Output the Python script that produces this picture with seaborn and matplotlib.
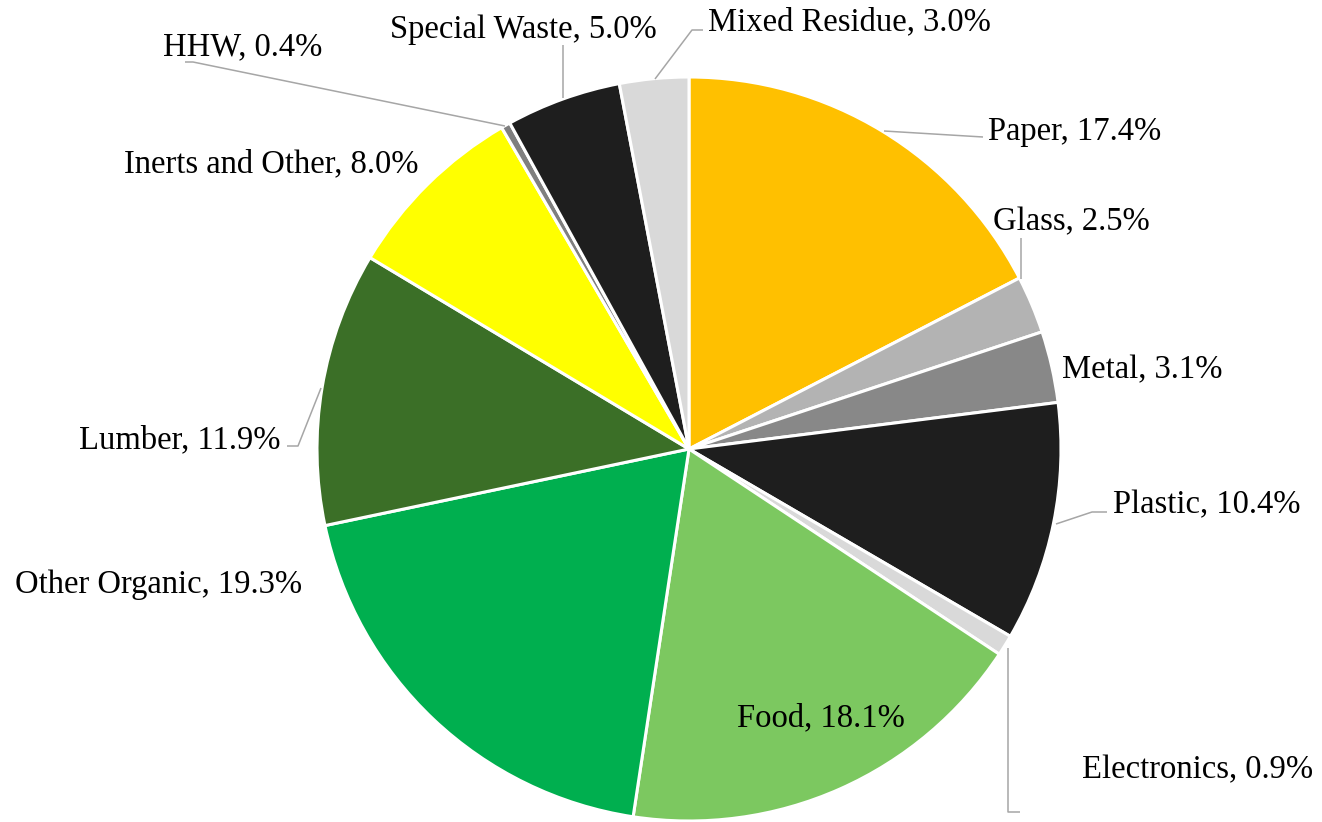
import matplotlib
matplotlib.use("Agg")
import matplotlib.pyplot as plt
import seaborn as sns

sns.set_theme(style="white")
plt.rcParams['font.family'] = ['Liberation Serif', 'DejaVu Serif']

categories = ['Paper', 'Glass', 'Metal', 'Plastic', 'Electronics', 'Food',
              'Other Organic', 'Lumber', 'Inerts and Other', 'HHW',
              'Special Waste', 'Mixed Residue']
shares = [17.4, 2.5, 3.1, 10.4, 0.9, 18.1, 19.3, 11.9, 8.0, 0.4, 5.0, 3.0]
colors = ['#FFC000', '#B3B3B3', '#888888', '#1E1E1E', '#D9D9D9', '#7CC860',
          '#00AF4F', '#3B6F27', '#FFFF00', '#7F7F7F', '#1E1E1E', '#D9D9D9']

# figure layout in pixels (image coords, y down)
W, H = 1322, 822
CX, CY, R = 689, 449, 372

# label anchor (x, y, ha) and leader polylines, in pixels
label_pos = {
    'Paper': (988, 132, 'left'),
    'Glass': (993, 222, 'left'),
    'Metal': (1062, 370, 'left'),
    'Plastic': (1113, 505, 'left'),
    'Electronics': (1082, 770, 'left'),
    'Food': (737, 718, 'left'),
    'Other Organic': (302, 585, 'right'),
    'Lumber': (281, 440, 'right'),
    'Inerts and Other': (419, 164, 'right'),
    'HHW': (163, 47, 'left'),
    'Special Waste': (657, 30, 'right'),
    'Mixed Residue': (708, 22, 'left'),
}
leaders = {
    'Paper': [(884, 131), (983, 137)],
    'Glass': [(1021, 279), (1021, 238)],
    'Plastic': [(1056, 524), (1092, 512), (1107, 512)],
    'Electronics': [(1008, 648), (1008, 812), (1020, 812)],
    'Lumber': [(321, 388), (298, 446), (287, 446)],
    'HHW': [(505, 126), (193, 62), (185, 62)],
    'Special Waste': [(563, 98), (563, 45)],
    'Mixed Residue': [(655, 79), (692, 30), (703, 30)],
}


def to_data(px, py):
    return (px - CX) / R, (CY - py) / R


fig = plt.figure(figsize=(W / 100, H / 100), dpi=100)
ax = fig.add_axes([0, 0, 1, 1])
ax.pie(shares, colors=colors, startangle=90, counterclock=False, radius=1,
       wedgeprops=dict(edgecolor='white', linewidth=2.2))
ax.set_xlim(-CX / R, (W - CX) / R)
ax.set_ylim(-(H - CY) / R, CY / R)
ax.set_aspect('auto')
ax.axis('off')

for name, pts in leaders.items():
    xs, ys = zip(*[to_data(*p) for p in pts])
    ax.plot(xs, ys, color='#A6A6A6', lw=1.1, solid_capstyle='butt')

for name, val in zip(categories, shares):
    px, py, ha = label_pos[name]
    x, y = to_data(px, py)
    ax.text(x, y, f'{name}, {val:.1f}%', ha=ha, va='center', fontsize=23.5,
            color='black')

fig.savefig('out.png', dpi=100)
